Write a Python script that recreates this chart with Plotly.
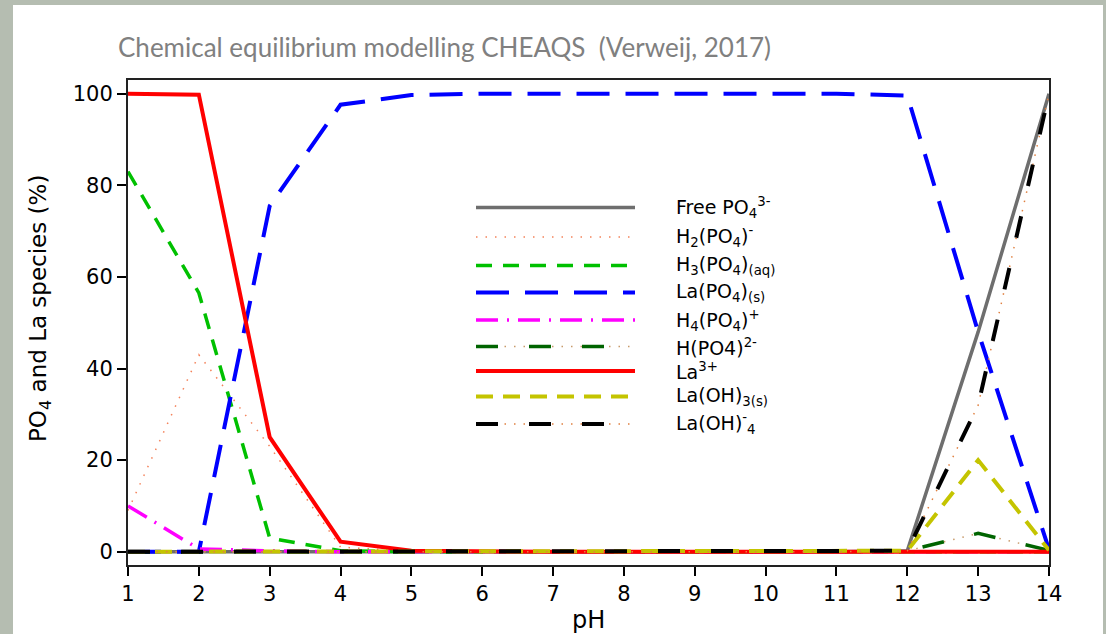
import plotly.graph_objects as go

# ---------------- data ----------------
ph = [1, 2, 3, 4, 5, 6, 7, 8, 9, 10, 11, 12, 13, 14]

free_po4  = [0, 0, 0, 0, 0, 0, 0, 0, 0, 0, 0, 0.2, 48, 100]
h2po4     = [9, 43, 23, 1, 0.1, 0, 0, 0, 0, 0, 0, 0, 0, 0]
h3po4     = [83, 56.5, 3, 0.2, 0, 0, 0, 0, 0, 0, 0, 0, 0, 0]
lapo4     = [0, 0, 75.5, 97.6, 99.7, 100, 100, 100, 100, 100, 100, 99.6, 48, 0.5]
h4po4     = [10, 0.6, 0.2, 0, 0, 0, 0, 0, 0, 0, 0, 0, 0, 0]
hpo4      = [0, 0, 0, 0, 0, 0, 0, 0, 0, 0, 0, 0.2, 4, 0.3]
la3       = [100, 99.8, 25, 2.2, 0.2, 0, 0, 0, 0, 0, 0, 0, 0, 0]
laoh3     = [0, 0, 0, 0, 0, 0, 0, 0, 0, 0, 0, 0.2, 20, 0.3]
laoh4     = [0, 0, 0, 0, 0, 0, 0, 0, 0, 0, 0, 0.2, 32, 100]

labels = [
    "Free PO<sub>4</sub><sup>3-</sup>",
    "H<sub>2</sub>(PO<sub>4</sub>)<sup>-</sup>",
    "H<sub>3</sub>(PO<sub>4</sub>)<sub>(aq)</sub>",
    "La(PO<sub>4</sub>)<sub>(s)</sub>",
    "H<sub>4</sub>(PO<sub>4</sub>)<sup>+</sup>",
    "H(PO4)<sup>2-</sup>",
    "La<sup>3+</sup>",
    "La(OH)<sub>3(s)</sub>",
    "La(OH)<sup>-</sup><sub>4</sub>",
]
series = [free_po4, h2po4, h3po4, lapo4, h4po4, hpo4, la3, laoh3, laoh4]

y_ticks = [0, 20, 40, 60, 80, 100]
title_text = "Chemical equilibrium modelling CHEAQS  (Verweij, 2017)"
x_title = "pH"
y_title = "PO<sub>4</sub> and La species (%)"

# ---------------- styles ----------------
# (color, width, dash, optional underlay dot color)
styles = [
    ("#6e6e6e", 3.5, "solid", None),
    ("#f4825a", 1.5, "1.5px,8px", None),
    ("#00c000", 3.5, "16px,11px", None),
    ("#0000ff", 4, "33px,16px", None),
    ("#ff00ff", 3.5, "22px,9px,2px,9px", None),
    ("#006400", 3.5, "22px,31px", "#c89a6a"),
    ("#ff0000", 4, "solid", None),
    ("#c4c400", 4, "17px,10px", None),
    ("#000000", 4, "22px,31px", "#e08040"),
]

TXT = "DejaVu Sans"
W, H = 1106, 634
ML, MR, MT, MB = 128, 57, 80, 69
PW, PH = W - ML - MR, H - MT - MB
NBSP = "\u00a0"


def px_x(px):
    return (px - ML) / PW


def px_y(py):
    return (H - MB - py) / PH


fig = go.Figure()

for vals, (col, wd, dash, under) in zip(series, styles):
    if under:
        fig.add_trace(go.Scatter(x=ph, y=vals, mode="lines", showlegend=False,
                                 hoverinfo="skip",
                                 line=dict(color=under, width=1.5, dash="1.5px,8px")))
    fig.add_trace(go.Scatter(x=ph, y=vals, mode="lines", showlegend=False,
                             line=dict(color=col, width=wd, dash=dash)))

shapes = []
# white panel over the textured background
shapes.append(dict(type="rect", xref="paper", yref="paper", layer="below",
                   x0=px_x(13), x1=px_x(1103), y0=px_y(5), y1=px_y(640),
                   fillcolor="white", line=dict(width=0)))

# custom legend
leg_rows = [207.5, 237, 265.5, 292.5, 320, 346.5, 371, 396.5, 424]
annotations = []
for row, lab, (col, wd, dash, under) in zip(leg_rows, labels, styles):
    if under:
        shapes.append(dict(type="line", xref="paper", yref="paper",
                           x0=px_x(476), x1=px_x(635), y0=px_y(row), y1=px_y(row),
                           line=dict(color=under, width=1.5, dash="1.5px,8px")))
    shapes.append(dict(type="line", xref="paper", yref="paper",
                       x0=px_x(476), x1=px_x(635), y0=px_y(row), y1=px_y(row),
                       line=dict(color=col, width=wd, dash=dash)))
    annotations.append(dict(xref="paper", yref="paper", x=px_x(674), y=px_y(row),
                            xanchor="left", yanchor="middle", showarrow=False,
                            text=lab, font=dict(family=TXT, size=19, color="black")))

# axis titles
annotations.append(dict(xref="paper", yref="paper", x=px_x(588), y=px_y(620),
                        xanchor="center", yanchor="middle", showarrow=False,
                        text=x_title, font=dict(family=TXT, size=24, color="black")))
annotations.append(dict(xref="paper", yref="paper", x=px_x(40), y=px_y(309),
                        xanchor="center", yanchor="middle", showarrow=False,
                        textangle=-90,
                        text=y_title, font=dict(family=TXT, size=23, color="black")))

fig.update_layout(
    width=W, height=H,
    margin=dict(l=ML, r=MR, t=MT, b=MB),
    paper_bgcolor="#b5bdb1",
    plot_bgcolor="white",
    shapes=shapes,
    annotations=annotations,
    title=dict(text=title_text,
               x=118 / W, xref="container", xanchor="left",
               y=1 - 48 / H, yref="container", yanchor="middle",
               font=dict(family="Lato", size=26, color="#808080")),
    font=dict(family=TXT, color="black"),
)

fig.update_xaxes(range=[1, 14], tickmode="array", tickvals=ph,
                 ticks="outside", ticklen=9, tickwidth=2, tickcolor="black",
                 showline=True, linewidth=2, linecolor="#222", mirror=True,
                 showgrid=False, zeroline=False, automargin=False,
                 tickfont=dict(family=TXT, size=21, color="black"))
fig.update_yaxes(range=[-2.9, 103.0], tickmode="array", tickvals=y_ticks,
                 ticks="outside", ticklen=9, tickwidth=2, tickcolor="black",
                 showline=True, linewidth=2, linecolor="#222", mirror=True,
                 showgrid=False, zeroline=False, automargin=False,
                 ticksuffix=NBSP * 3 + "\u2009",
                 tickfont=dict(family=TXT, size=21, color="black"))

fig.write_html("out.html", config={"displayModeBar": False},
               post_script="document.body.style.margin='0px';")
